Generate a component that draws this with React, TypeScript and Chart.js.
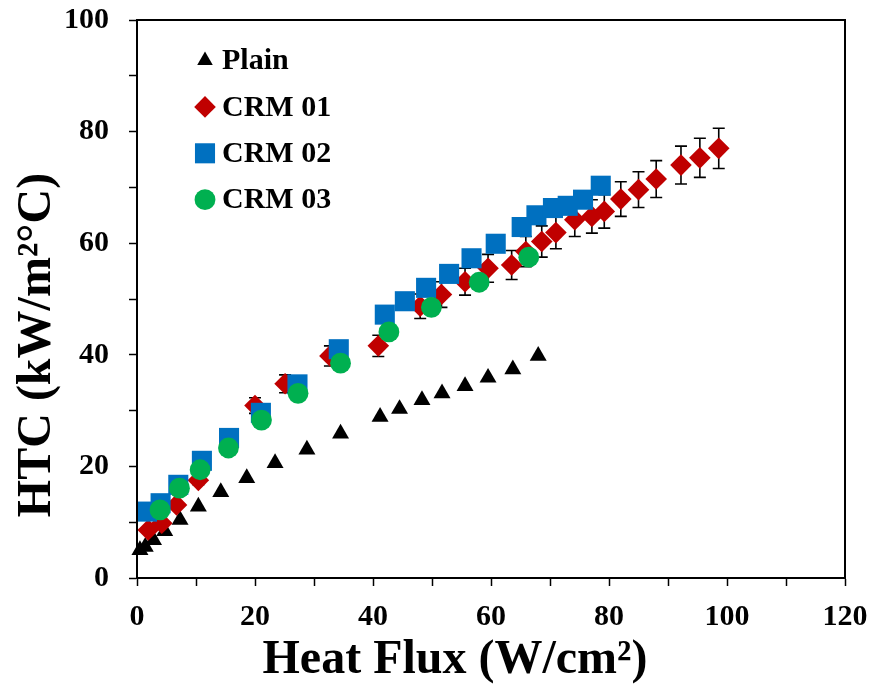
import React, { useEffect, useRef } from 'react';
import { Chart, registerables } from 'chart.js';
import { drawPoint } from 'chart.js/helpers';

Chart.register(...registerables);

// ---- Data ----
const plainX = [0.5, 1.4, 2.8, 4.7, 7.3, 10.4, 14.2, 18.6, 23.4, 28.8, 34.5, 41.2, 44.5, 48.3, 51.7, 55.6, 59.5, 63.7, 68.0];
const plainY = [5.0, 5.6, 6.8, 8.4, 10.4, 12.8, 15.4, 17.9, 20.6, 23.0, 25.9, 28.9, 30.3, 31.9, 33.1, 34.4, 35.9, 37.4, 39.8];

const crm01X = [1.9, 4.2, 6.7, 10.4, 20.0, 25.1, 32.7, 40.9, 48.0, 51.6, 55.6, 59.5, 63.5, 65.9, 68.6, 71.0, 74.2, 77.1, 79.2, 82.0, 85.0, 88.0, 92.2, 95.4, 98.6];
const crm01Y = [8.6, 9.8, 13.1, 17.5, 30.9, 34.8, 39.8, 41.6, 48.7, 50.8, 53.1, 55.5, 56.1, 58.5, 60.3, 61.9, 64.2, 64.8, 65.7, 67.9, 69.6, 71.5, 74.0, 75.3, 77.0];
const crm01Err = [0.4, 0.5, 0.6, 0.8, 1.4, 1.6, 1.8, 1.9, 2.2, 2.3, 2.4, 2.5, 2.6, 2.7, 2.8, 2.9, 3.0, 3.0, 3.0, 3.1, 3.2, 3.3, 3.4, 3.5, 3.6];

const crm02X = [1.7, 4.0, 7.0, 11.0, 15.6, 21.0, 27.2, 34.2, 42.0, 45.4, 49.0, 52.9, 56.7, 60.8, 65.2, 67.7, 70.5, 73.0, 75.6, 78.6];
const crm02Y = [11.9, 13.4, 16.7, 21.0, 25.1, 29.6, 34.7, 41.0, 47.2, 49.6, 52.0, 54.5, 57.3, 59.9, 62.9, 65.0, 66.3, 66.7, 67.8, 70.3];

const crm03X = [3.9, 7.2, 10.7, 15.5, 21.1, 27.3, 34.5, 42.7, 49.9, 58.0, 66.4];
const crm03Y = [12.2, 16.1, 19.4, 23.3, 28.3, 33.1, 38.5, 44.1, 48.5, 53.0, 57.5];

const seriesNames = ['Plain', 'CRM 01', 'CRM 02', 'CRM 03'];
const xLabelValues = [0, 20, 40, 60, 80, 100, 120];
const yLabelValues = [0, 20, 40, 60, 80, 100];
const xTitle = 'Heat Flux (W/cm\u00B2)';
const yTitle = 'HTC (kW/m\u00B2\u00B0C)';

const FAMILY = '"Liberation Serif", "Times New Roman", serif';

const toPoints = (xs: number[], ys: number[]) => xs.map((x, i) => ({ x, y: ys[i] }));

const errorBarPlugin = {
  id: 'errorBars',
  beforeDatasetDraw(chart: any, args: any) {
    if (args.index !== 1) return;
    const { ctx, scales } = chart;
    const xs = scales.x;
    const ys = scales.y;
    ctx.save();
    ctx.strokeStyle = '#000';
    ctx.lineWidth = 1.6;
    crm01X.forEach((xv, i) => {
      const px = xs.getPixelForValue(xv);
      const top = ys.getPixelForValue(crm01Y[i] + crm01Err[i]);
      const bot = ys.getPixelForValue(crm01Y[i] - crm01Err[i]);
      ctx.beginPath();
      ctx.moveTo(px, top);
      ctx.lineTo(px, bot);
      ctx.moveTo(px - 6, top);
      ctx.lineTo(px + 6, top);
      ctx.moveTo(px - 6, bot);
      ctx.lineTo(px + 6, bot);
      ctx.stroke();
    });
    ctx.restore();
  },
};

const framePlugin = {
  id: 'frame',
  afterDraw(chart: any) {
    const { ctx, chartArea } = chart;
    ctx.save();
    ctx.strokeStyle = '#000';
    ctx.lineWidth = 2;
    ctx.strokeRect(chartArea.left, chartArea.top, chartArea.right - chartArea.left, chartArea.bottom - chartArea.top);
    ctx.restore();
  },
};

const legendPlugin = {
  id: 'innerLegend',
  afterDraw(chart: any) {
    const { ctx } = chart;
    ctx.save();
    chart.data.datasets.forEach((ds: any, i: number) => {
      const y = 60.5 + i * 46.4;
      ctx.fillStyle = ds.backgroundColor;
      ctx.strokeStyle = ds.backgroundColor;
      const r = ds.pointStyle === 'triangle' ? 9 : ds.pointRadius;
      drawPoint(ctx, { pointStyle: ds.pointStyle, radius: r, borderWidth: 0, rotation: 0 }, 205, y);
      ctx.fillStyle = '#000';
      ctx.font = `bold 30px ${FAMILY}`;
      ctx.textAlign = 'left';
      ctx.textBaseline = 'middle';
      ctx.fillText(ds.label, 222, y + 1);
    });
    ctx.restore();
  },
};

const titlePlugin = {
  id: 'axisTitles',
  afterDraw(chart: any) {
    const { ctx } = chart;
    ctx.save();
    ctx.fillStyle = '#000';
    ctx.font = `bold 48px ${FAMILY}`;
    ctx.textAlign = 'center';
    ctx.textBaseline = 'alphabetic';
    ctx.fillText(xTitle, 455, 673);
    ctx.translate(50, 345);
    ctx.rotate(-Math.PI / 2);
    ctx.fillText(yTitle, 0, 0);
    ctx.restore();
  },
};

export default function App() {
  const ref = useRef<HTMLCanvasElement | null>(null);

  useEffect(() => {
    if (!ref.current) return;
    const tickFont = { family: FAMILY, size: 30, weight: 'bold' as const };
    const chart = new Chart(ref.current, {
      type: 'scatter',
      data: {
        datasets: [
          {
            label: seriesNames[0],
            data: toPoints(plainX, plainY),
            pointStyle: 'triangle',
            pointRadius: 9.8,
            backgroundColor: '#000000',
            borderColor: '#000000',
            borderWidth: 0,
            order: 4,
            clip: false,
          },
          {
            label: seriesNames[1],
            data: toPoints(crm01X, crm01Y),
            pointStyle: 'rectRot',
            pointRadius: 10.8,
            backgroundColor: '#C00000',
            borderColor: '#C00000',
            borderWidth: 0,
            order: 3,
            clip: false,
          },
          {
            label: seriesNames[2],
            data: toPoints(crm02X, crm02Y),
            pointStyle: 'rect',
            pointRadius: 14.2,
            backgroundColor: '#0070C0',
            borderColor: '#0070C0',
            borderWidth: 0,
            order: 2,
            clip: false,
          },
          {
            label: seriesNames[3],
            data: toPoints(crm03X, crm03Y),
            pointStyle: 'circle',
            pointRadius: 10.4,
            backgroundColor: '#00B050',
            borderColor: '#00B050',
            borderWidth: 0,
            order: 1,
            clip: false,
          },
        ] as any,
      },
      options: {
        responsive: false,
        animation: false,
        layout: { padding: { top: 20, right: 28, left: 0, bottom: 0 } },
        plugins: {
          legend: { display: false },
          tooltip: { enabled: false },
        },
        scales: {
          x: {
            type: 'linear',
            min: 0,
            max: 120,
            ticks: {
              stepSize: 10,
              autoSkip: false,
              maxRotation: 0,
              color: '#000',
              font: tickFont,
              padding: 13,
              callback: (v: any) => (xLabelValues.includes(Number(v)) ? String(v) : ''),
            },
            grid: { drawOnChartArea: false, drawTicks: true, tickLength: 8, tickColor: '#000', tickWidth: 1.5 },
            border: { display: true, color: '#000', width: 2 },
            afterFit: (s: any) => {
              s.height = 108;
              s.paddingLeft = 0;
              s.paddingRight = 0;
            },
          },
          y: {
            type: 'linear',
            min: 0,
            max: 100,
            ticks: {
              stepSize: 10,
              autoSkip: false,
              color: '#000',
              font: tickFont,
              padding: 20,
              callback: (v: any) => (yLabelValues.includes(Number(v)) ? String(v) : ''),
            },
            grid: { drawOnChartArea: false, drawTicks: true, tickLength: 8, tickColor: '#000', tickWidth: 1.5 },
            border: { display: true, color: '#000', width: 2 },
            afterFit: (s: any) => {
              s.width = 137;
              s.paddingTop = 0;
              s.paddingBottom = 0;
            },
          },
        },
      } as any,
      plugins: [errorBarPlugin, framePlugin, legendPlugin, titlePlugin],
    });
    return () => chart.destroy();
  }, []);

  return (
    <div style={{ position: 'absolute', left: 0, top: 0, width: 873, height: 686, background: '#fff' }}>
      <canvas ref={ref} width={873} height={686} style={{ width: 873, height: 686, display: 'block' }} />
    </div>
  );
}
